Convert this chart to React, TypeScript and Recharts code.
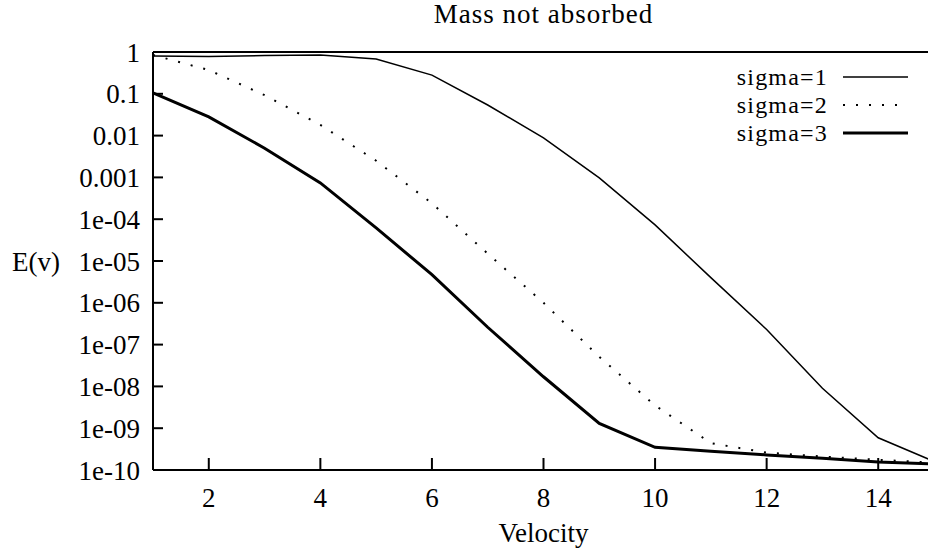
import { LineChart, Line, XAxis, YAxis, Legend, Label } from 'recharts';

const velocity = [1, 2, 3, 4, 5, 6, 7, 8, 9, 10, 11, 12, 13, 14, 15];
const sigma1 = [0.8, 0.78, 0.82, 0.85, 0.68, 0.28, 0.054, 0.0088, 9.7e-4, 7.3e-5, 4e-6, 2.3e-7, 9e-9, 5.9e-10, 1.6e-10];
const sigma2 = [0.85, 0.37, 0.093, 0.018, 0.0025, 2.4e-4, 1.5e-5, 1e-6, 5.1e-8, 3.5e-9, 4.4e-10, 2.6e-10, 2.1e-10, 1.75e-10, 1.5e-10];
const sigma3 = [0.105, 0.028, 0.005, 7.4e-4, 6.2e-5, 4.7e-6, 2.6e-7, 1.7e-8, 1.3e-9, 3.5e-10, 2.8e-10, 2.3e-10, 1.9e-10, 1.55e-10, 1.4e-10];

const xTicks = [2, 4, 6, 8, 10, 12, 14];
const yTickValues = [1e-10, 1e-9, 1e-8, 1e-7, 1e-6, 1e-5, 1e-4, 1e-3, 1e-2, 1e-1, 1];
const yTickLabels = ['1e-10', '1e-09', '1e-08', '1e-07', '1e-06', '1e-05', '1e-04', '0.001', '0.01', '0.1', '1'];

const series = [
  { key: 'sigma1', name: 'sigma=1', width: 1.5, dash: undefined as string | undefined },
  { key: 'sigma2', name: 'sigma=2', width: 2, dash: '2 11' },
  { key: 'sigma3', name: 'sigma=3', width: 3, dash: undefined as string | undefined },
];

const data = velocity.map((v, i) => ({
  v,
  sigma1: sigma1[i],
  sigma2: sigma2[i],
  sigma3: sigma3[i],
}));

const font = '"Liberation Serif", "Times New Roman", serif';
const fs = 27;
const tickStyle = { fill: '#000', fontSize: fs, fontFamily: font };
const axisLine = { stroke: '#000', strokeWidth: 2 };
const tickLine = { stroke: '#000', strokeWidth: 2 };

function fmtY(value: number) {
  const i = yTickValues.findIndex((t) => Math.abs(Math.log10(t) - Math.log10(value)) < 1e-6);
  return i >= 0 ? yTickLabels[i] : String(value);
}

// gnuplot-style key: label right-aligned, sample line to its right
function KeyBox() {
  return (
    <svg width={220} height={95} style={{ display: 'block' }}>
      {series.map((s, i) => {
        const y = 15 + i * 28;
        return (
          <g key={s.key}>
            <text x={128} y={y + 8} textAnchor="end" fontSize={24} letterSpacing={1.2} fontFamily={font} fill="#000">
              {s.name}
            </text>
            <line x1={143} x2={208} y1={y} y2={y} stroke="#000" strokeWidth={s.width} strokeDasharray={s.dash} />
          </g>
        );
      })}
    </svg>
  );
}

export default function App() {
  return (
    <div style={{ position: 'absolute', left: 0, top: 0, width: 928, height: 550, overflow: 'hidden', background: '#fff' }}>
      <LineChart width={940} height={550} data={data} margin={{ top: 0, right: 0, bottom: 0, left: 0 }}>
        <XAxis
          xAxisId="x"
          dataKey="v"
          type="number"
          domain={[1, 15]}
          ticks={xTicks}
          allowDataOverflow
          height={80}
          tick={tickStyle}
          tickSize={-12}
          tickMargin={30}
          axisLine={axisLine}
          tickLine={tickLine}
        >
          <Label value="Velocity" position="insideBottom" offset={8} fill="#000" fontSize={fs} fontFamily={font} />
        </XAxis>
        <XAxis
          xAxisId="top"
          orientation="top"
          dataKey="v"
          type="number"
          domain={[1, 15]}
          ticks={xTicks}
          allowDataOverflow
          height={52}
          tick={false}
          tickSize={-12}
          axisLine={axisLine}
          tickLine={tickLine}
        >
          <Label value="Mass not absorbed" position="insideTop" offset={4} fill="#000" fontSize={fs} fontFamily={font} letterSpacing={1} />
        </XAxis>
        <YAxis
          yAxisId="y"
          scale="log"
          type="number"
          domain={[1e-10, 1]}
          ticks={yTickValues}
          allowDataOverflow
          width={153}
          tick={tickStyle}
          tickFormatter={fmtY}
          tickSize={-10}
          tickMargin={23}
          axisLine={axisLine}
          tickLine={tickLine}
        >
          <Label value="E(v)" position="insideLeft" offset={12} angle={0} fill="#000" fontSize={fs} fontFamily={font} />
        </YAxis>
        <YAxis
          yAxisId="right"
          orientation="right"
          scale="log"
          type="number"
          domain={[1e-10, 1]}
          ticks={yTickValues}
          allowDataOverflow
          width={6}
          tick={false}
          tickSize={-14}
          axisLine={axisLine}
          tickLine={tickLine}
        />
        <Legend
          layout="horizontal"
          verticalAlign="middle"
          align="center"
          wrapperStyle={{ top: 62, left: 700, width: 220 }}
          content={() => <KeyBox />}
        />
        {series.map((s) => (
          <Line
            key={s.key}
            xAxisId="x"
            yAxisId="y"
            type="linear"
            dataKey={s.key}
            name={s.name}
            stroke="#000"
            strokeWidth={s.width}
            strokeDasharray={s.dash}
            dot={false}
            activeDot={false}
            isAnimationActive={false}
          />
        ))}
      </LineChart>
    </div>
  );
}
